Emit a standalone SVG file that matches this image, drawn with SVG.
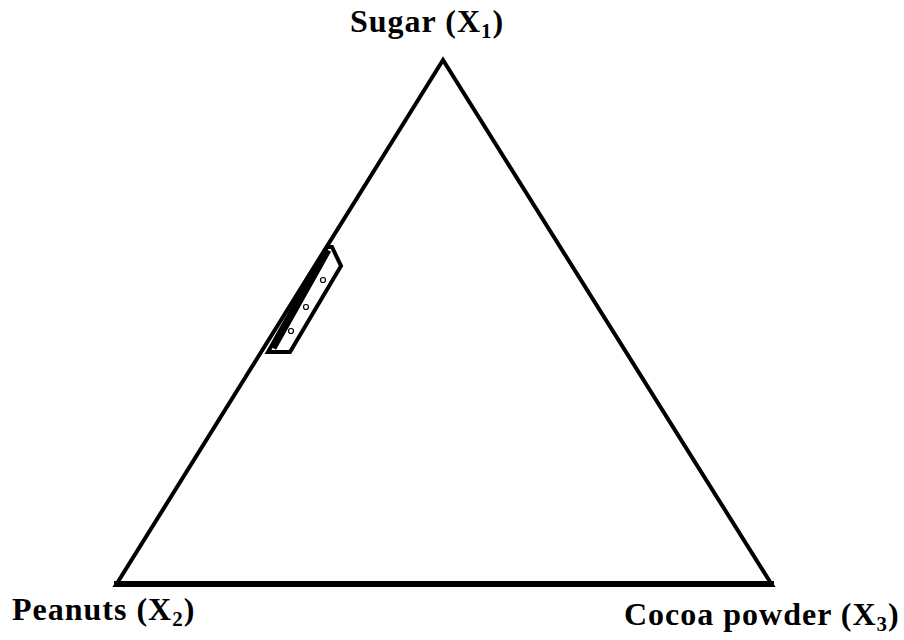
<svg xmlns="http://www.w3.org/2000/svg" width="904" height="640" viewBox="0 0 904 640">
<style>
.lbl{font-family:"Liberation Serif","Times New Roman",serif;font-weight:bold;font-size:32px;fill:#000;letter-spacing:1px}
.sub{font-size:21px}
.edge{fill:none;stroke:#000;stroke-width:4;stroke-linejoin:miter}
.pt{fill:none;stroke:#000;stroke-width:1.2}
</style>
<rect width="904" height="640" fill="#fff"/>
<g id="triangle">
<polygon class="edge" points="443,60 116,585 772,585"/>
<line x1="114" y1="584" x2="774" y2="584" stroke="#000" stroke-width="6"/>
</g>
<g id="region">
<polygon class="edge" stroke-width="3" points="327,247 332,247 341,266 290,352 268,352"/>
<line x1="328" y1="250" x2="273" y2="348" stroke="#000" stroke-width="7"/>
<circle class="pt" cx="323" cy="280" r="2.5"/>
<circle class="pt" cx="306" cy="307" r="2.5"/>
<circle class="pt" cx="291" cy="331" r="2.5"/>
</g>
<g id="labels">
<text class="lbl" x="350" y="32">Sugar (X<tspan class="sub" dy="6">1</tspan><tspan dy="-6">)</tspan></text>
<text class="lbl" x="12" y="620">Peanuts (X<tspan class="sub" dy="6">2</tspan><tspan dy="-6">)</tspan></text>
<text class="lbl" x="624" y="625">Cocoa powder (X<tspan class="sub" dy="6">3</tspan><tspan dy="-6">)</tspan></text>
</g>
</svg>
